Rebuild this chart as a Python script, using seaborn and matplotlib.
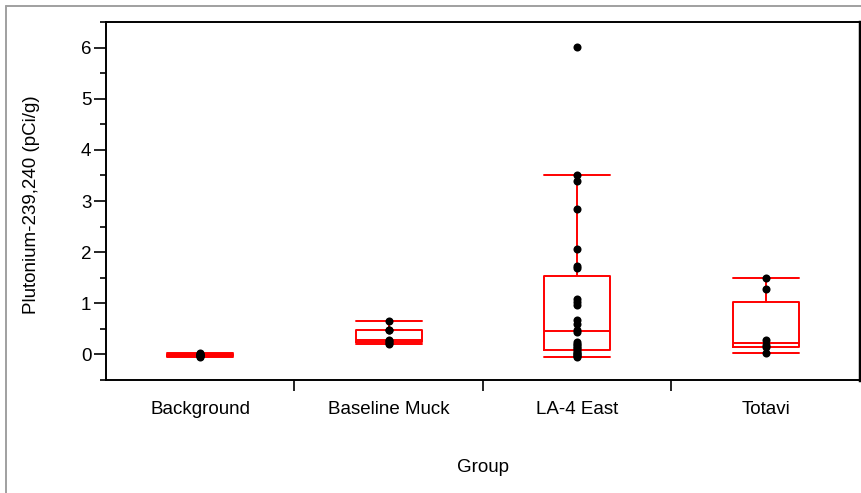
import numpy as np
import pandas as pd
import matplotlib
matplotlib.use("Agg")
import matplotlib.pyplot as plt
from matplotlib.ticker import MultipleLocator, FixedLocator
from matplotlib.lines import Line2D
import seaborn as sns

# ---- data ----
groups = ["Background", "Baseline Muck", "LA-4 East", "Totavi"]
background = [-0.06, -0.04, -0.03, -0.02, -0.01, 0.0, 0.01, 0.03]
baseline_muck = [0.21, 0.23, 0.26, 0.28, 0.47, 0.47, 0.66]
la4_east = [-0.05, -0.04, -0.02, 0.0, 0.02, 0.05, 0.08, 0.12, 0.15, 0.18,
            0.21, 0.25, 0.44, 0.48, 0.59, 0.67, 0.96, 1.03, 1.09, 1.69,
            1.73, 2.06, 2.84, 3.39, 3.51, 6.01]
totavi = [0.03, 0.14, 0.18, 0.28, 1.28, 1.49]
y_ticks = [0, 1, 2, 3, 4, 5, 6]
x_label = "Group"
y_label = "Plutonium-239,240 (pCi/g)"

series = [background, baseline_muck, la4_east, totavi]
df = pd.DataFrame({
    "Group": np.concatenate([[g] * len(v) for g, v in zip(groups, series)]),
    "value": np.concatenate(series),
})

sns.set_theme(style="white")
plt.rcParams["font.family"] = ["Liberation Sans", "DejaVu Sans"]
FS = 13.5

fig = plt.figure(figsize=(8.62, 4.93), dpi=100)
ax = fig.add_axes([106 / 862, 1 - 380 / 493, (860 - 106) / 862, (380 - 22) / 493])

sns.boxplot(data=df, x="Group", y="value", order=groups, ax=ax,
            fill=False, color="#ff0000", linecolor="#ff0000",
            width=0.35, linewidth=1.4, showfliers=False,
            capwidths=0.35, whis=1.5)
sns.stripplot(data=df, x="Group", y="value", order=groups, ax=ax,
              jitter=False, color="black", size=5.8, linewidth=0, zorder=5)

ax.set_xlim(-0.5, 3.5)
ax.set_ylim(-0.5, 6.5)

# x axis: separator ticks between groups, labels at group centres
ax.xaxis.set_major_locator(FixedLocator([0.5, 1.5, 2.5]))
ax.xaxis.set_minor_locator(FixedLocator([0, 1, 2, 3]))
ax.set_xticklabels([], minor=False)
ax.set_xticklabels(groups, minor=True)
ax.tick_params(axis="x", which="major", direction="out", length=8, width=1.2,
               color="black", bottom=True)
ax.tick_params(axis="x", which="minor", length=0, pad=15, labelsize=FS,
               labelcolor="black", bottom=True)

# y axis
ax.yaxis.set_major_locator(FixedLocator(y_ticks))
ax.yaxis.set_minor_locator(MultipleLocator(0.5))
ax.tick_params(axis="y", which="major", direction="out", length=8.5, width=1.2,
               color="black", left=True, pad=2, labelsize=FS, labelcolor="black")
ax.tick_params(axis="y", which="minor", direction="out", length=4.5, width=1.2,
               color="black", left=True)

for side, sp in ax.spines.items():
    sp.set_visible(True)
    sp.set_color("black")
    sp.set_linewidth(1.4)
ax.spines["right"].set_linewidth(2.5)

ax.set_xlabel(x_label, fontsize=FS, color="black")
ax.set_ylabel(y_label, fontsize=FS, color="black")
ax.xaxis.set_label_coords(0.5, -0.22)
ax.yaxis.set_label_coords(-0.088, 0.49)

# outer grey frame of the original graphic
fig.add_artist(Line2D([6 / 862, 1], [1 - 6 / 493, 1 - 6 / 493],
                      transform=fig.transFigure, color="#a0a0a0", linewidth=1.4))
fig.add_artist(Line2D([6 / 862, 6 / 862], [0, 1 - 6 / 493],
                      transform=fig.transFigure, color="#a0a0a0", linewidth=1.4))

fig.savefig("out.png", dpi=100, facecolor="white")
